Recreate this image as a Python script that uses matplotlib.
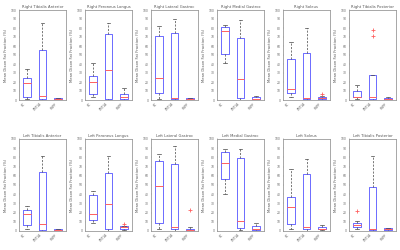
import numpy as np
import matplotlib
matplotlib.use("Agg")
from matplotlib import pyplot as plt

groups = ["HC", "CMT1A", "HNPP"]

titles = ["Right Tibialis Anterior", "Right Peroneus Longus", "Right Lateral Gastroc",
          "Right Medial Gastroc", "Right Soleus", "Right Tibialis Posterior",
          "Left Tibialis Anterior", "Left Peroneus Longus", "Left Lateral Gastroc",
          "Left Medial Gastroc", "Left Soleus", "Left Tibialis Posterior"]

# per panel: [group1, group2, group3]
med = [[19, 4, 1], [20, 33, 3], [24, 2, 1], [76.5, 23, 1], [12, 2.5, 2], [3, 3, 1],
       [18, 8, 1], [18, 29, 4], [48.5, 4, 1.5], [73.5, 10.5, 2], [26.5, 4, 2], [6.5, 2.5, 2]]
q1 = [[3, 1.5, 0.8], [7, 1.5, 1.5], [7.5, 1.5, 0.5], [51.5, 2, 0.5], [7.5, 1, 1.5], [3, 0.7, 0.5],
      [7, 0.7, 0.5], [11.5, 2.5, 2], [9, 2, 0.5], [56, 3, 1], [8, 2, 2], [4, 0.7, 1]]
q3 = [[24, 56, 2], [26.5, 73.5, 6.5], [71, 74, 2], [81, 68.5, 3.5], [46, 52, 3.5], [10.5, 28, 2],
      [23, 64.5, 2], [39, 63, 5], [76, 73, 2], [86, 79, 5.5], [37.5, 61.5, 4], [9, 47.5, 3]]
lo = [[1, 0.5, 0], [3, 0.5, 0.5], [1.5, 0.5, 0], [41, 0.5, 0], [3.5, 0.5, 0.5], [1, 0.3, 0],
      [2.5, 0, 0], [9, 0.5, 1], [2, 0.5, 0], [40, 1, 0.5], [2, 0.5, 0.8], [2, 0.5, 0.3]]
hi = [[35, 86, 2.5], [41, 86, 13], [82, 90, 2.5], [83.5, 89, 4.5], [65, 80, 4], [17, 28, 3],
      [27, 82, 2.5], [44, 81, 5], [84, 92, 4], [89, 89, 9], [67, 78, 6], [10.5, 81, 3.5]]
fliers = [[[], [], []], [[], [], []], [[], [], []], [[], [], []], [[], [], [6.5]], [[], [77.5, 71], []],
          [[], [], []], [[], [], [7.5]], [[], [], [23]], [[], [], []], [[], [], []], [[22], [], []]]

fig = plt.figure(figsize=(4, 2.5), dpi=100)

for i in range(12):
    row, col = divmod(i, 6)
    left = (19 + col * 66) / 400
    if row == 0:
        ax = fig.add_axes([left, 0.6, 47 / 400, 0.36])
    else:
        ax = fig.add_axes([left, 0.076, 47 / 400, 0.368])
    stats = []
    for g in range(3):
        stats.append(dict(med=med[i][g], q1=q1[i][g], q3=q3[i][g],
                          whislo=lo[i][g], whishi=hi[i][g], fliers=fliers[i][g]))
    ax.bxp(stats, positions=[1, 2, 3], widths=0.5,
           boxprops=dict(color="#6b6bff", lw=0.7),
           medianprops=dict(color="#ff6060", lw=0.7),
           whiskerprops=dict(color="#444444", lw=0.5, ls=(0, (3, 2))),
           capprops=dict(color="#444444", lw=0.5),
           flierprops=dict(marker="+", markeredgecolor="#ff6060", markersize=2.5, markeredgewidth=0.6),
           capwidths=0.25)
    ax.set_ylim(0, 100)
    ax.set_xlim(0.5, 3.5)
    ax.set_yticks(np.arange(0, 101, 10))
    ax.tick_params(axis="y", labelsize=2.2, length=1, width=0.3, direction="in", pad=1.5, colors="#666666")
    ax.tick_params(axis="x", labelsize=2.2, length=0, pad=1.5, colors="#666666")
    ax.set_xticks([1, 2, 3])
    ax.set_xticklabels(groups, rotation=45, ha="right")
    ax.set_title(titles[i], fontsize=2.7, pad=1.5, color="#555555")
    ax.set_ylabel("Mean Dixon Fat Fraction (%)", fontsize=2.7, labelpad=2.5, color="#555555")
    for s in ax.spines.values():
        s.set_color("#999999")
        s.set_linewidth(0.6)

plt.savefig("out.png", dpi=100)
